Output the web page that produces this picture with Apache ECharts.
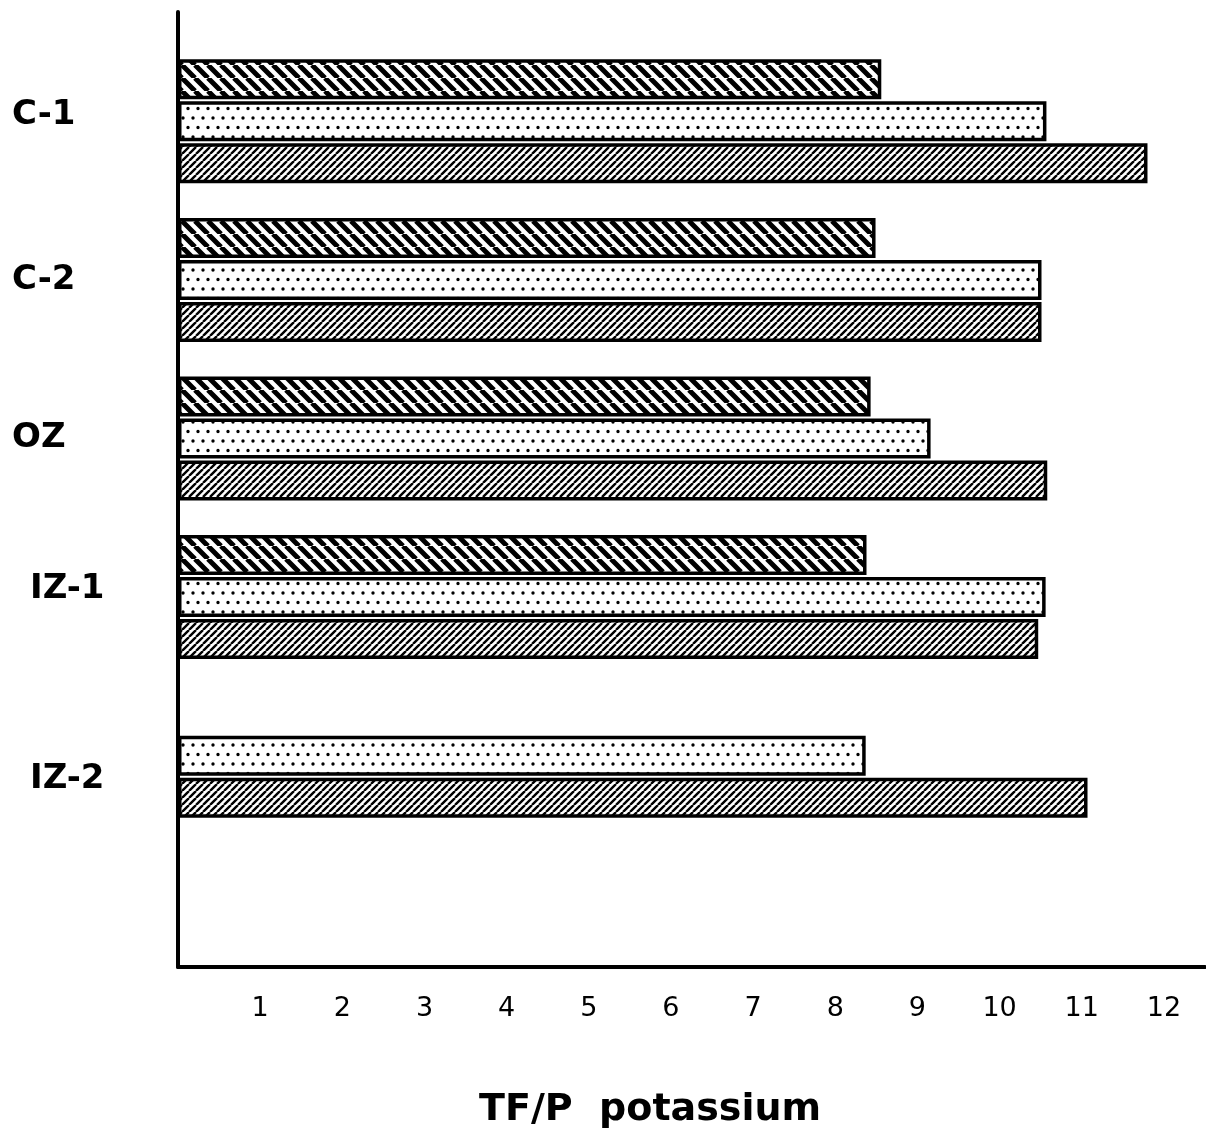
<!DOCTYPE html>
<html>
<head>
<meta charset="utf-8">
<title>TF/P potassium</title>
<script src="https://cdn.jsdelivr.net/npm/echarts@6/dist/echarts.min.js"></script>
<style>
    html, body { margin: 0; padding: 0; background: #fff; }
    #chart { width: 1206px; height: 1138px; }
</style>
</head>
<body>
<div id="chart"></div>
<script>
// data
var categories = ["C-1", "C-2", "OZ", "IZ-1", "IZ-2"];
var backHatch = [8.56, 8.49, 8.43, 8.38, null];
var dotted = [10.57, 10.51, 9.16, 10.56, 8.37];
var fwdHatch = [11.80, 10.51, 10.58, 10.47, 11.07];
var tickValues = [1, 2, 3, 4, 5, 6, 7, 8, 9, 10, 11, 12];
var axisTitle = "TF/P  potassium";

//pattern tiles
function hatchTile(size, width, back) {
    var c = document.createElement("canvas");
    c.width = size;
    c.height = size;
    var ctx = c.getContext("2d");
    ctx.fillStyle = "#fff";
    ctx.fillRect(0, 0, size, size);
    ctx.strokeStyle = "#000";
    ctx.lineWidth = width;
    ctx.beginPath();
    for (var k = -1; k <= 1; k++) {
        if (back) {
            ctx.moveTo(k * size, 0);
            ctx.lineTo(k * size + size, size);
        } else {
            ctx.moveTo(k * size, size);
            ctx.lineTo(k * size + size, 0);
        }
    }
    ctx.stroke();
    return c;
}
function dotTile() {
    var c = document.createElement("canvas");
    c.width = 10;
    c.height = 19;
    var ctx = c.getContext("2d");
    ctx.fillStyle = "#fff";
    ctx.fillRect(0, 0, 10, 19);
    ctx.fillStyle = "#000";
    ctx.beginPath();
    ctx.arc(3, 4, 1.7, 0, Math.PI * 2);
    ctx.arc(8, 13.5, 1.7, 0, Math.PI * 2);
    ctx.fill();
    return c;
}

var font = "DejaVu Sans";

function barSeries(name, data, tile) {
    return {
        name: name,
        type: "bar",
        xAxisIndex: 1,
        yAxisIndex: 1,
        barWidth: 40,
        barGap: "5%",
        data: data,
        itemStyle: {
            color: {image: tile, repeat: "repeat"},
            borderColor: "#000",
            borderWidth: 3.5
        },
        emphasis: {disabled: true}
    };
}

//labels in the scan are not lined up exactly
var labelKey = {"C-1": "a", "C-2": "b", "OZ": "b", "IZ-1": "c", "IZ-2": "d"};
var labelFont = {fontFamily: font, fontSize: 34, fontWeight: "bold", color: "#000"};
function richStyle(pad) {
    return Object.assign({padding: pad}, labelFont);
}

var option = {
    animation: false,
    backgroundColor: "#fff",
    title: {
        text: axisTitle,
        left: 474,
        top: 1086,
        textStyle: {fontFamily: font, fontSize: 38, fontWeight: "bold", color: "#000"}
    },
    grid: [
        {left: 178, right: 1, top: 12, bottom: 171, outerBoundsMode: "none"},
        {left: 178, right: 1, top: 42, height: 793, outerBoundsMode: "none"}
    ],
    xAxis: [
        {
            gridIndex: 0,
            type: "value",
            min: 0,
            max: 12.5,
            interval: 1,
            axisLine: {show: true, onZero: false, lineStyle: {color: "#000", width: 4}},
            axisTick: {show: false},
            splitLine: {show: false},
            axisLabel: {
                color: "#000",
                fontFamily: font,
                fontSize: 27,
                margin: 28,
                showMaxLabel: false,
                formatter: function (v) {
                    return tickValues.indexOf(v) >= 0 ? String(v) : "";
                }
            }
        },
        {gridIndex: 1, type: "value", min: 0, max: 12.5, show: false}
    ],
    yAxis: [
        {
            gridIndex: 0,
            type: "value",
            min: 0,
            max: 1,
            axisLine: {show: true, onZero: false, lineStyle: {color: "#000", width: 4}},
            axisTick: {show: false},
            axisLabel: {show: false},
            splitLine: {show: false}
        },
        {
            gridIndex: 1,
            type: "category",
            inverse: true,
            data: categories,
            axisLine: {show: false},
            axisTick: {show: false},
            splitLine: {show: false},
            axisLabel: {
                align: "left",
                margin: 166,
                fontFamily: font,
                fontSize: 34,
                fontWeight: "bold",
                color: "#000",
                formatter: function (v) {
                    return "{" + labelKey[v] + "|" + v + "}";
                },
                rich: {
                    a: richStyle([0, 0, 12, 0]),
                    b: richStyle([0, 0, 0, 0]),
                    c: richStyle([0, 0, 16, 18]),
                    d: richStyle([46, 0, 0, 18])
                }
            }
        }
    ],
    series: [
        barSeries("a", backHatch, hatchTile(13, 5, true)),
        barSeries("b", dotted, dotTile()),
        barSeries("c", fwdHatch, hatchTile(7, 2.4, false))
    ]
};

var myChart = echarts.init(document.getElementById("chart"));
myChart.setOption(option);
</script>
</body>
</html>
